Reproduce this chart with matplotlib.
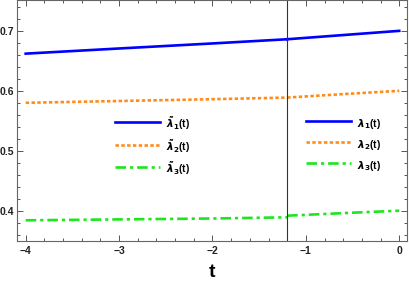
import matplotlib
matplotlib.use("Agg")
import matplotlib.pyplot as plt
from matplotlib.ticker import MultipleLocator

plt.rcParams.update({
    "font.family": ["Liberation Sans", "DejaVu Sans"],
    "mathtext.fontset": "dejavusans",
    "font.weight": "bold",
})

# switching time (vertical marker)
t_switch = -1.2

# before the switch: tilde lambdas
t_left = [-4.0, -3.0, -2.0, -1.2]
lam1_tilde = [0.662, 0.6706, 0.679, 0.686]
lam2_tilde = [0.580, 0.583, 0.586, 0.5887]
lam3_tilde = [0.384, 0.3855, 0.387, 0.389]

# after the switch: lambdas
t_right = [-1.2, -0.6, 0.0]
lam1 = [0.686, 0.693, 0.700]
lam2 = [0.5887, 0.5945, 0.600]
lam3 = [0.3917, 0.396, 0.400]

BLUE, ORANGE, GREEN = "#0000ff", "#ff8c1a", "#1ee61e"
DOT = (0, (1.3, 0.9))
DASHDOT = (0, (4, 1.5, 1.2, 1.5))

fig = plt.figure(figsize=(4.09, 2.82), dpi=100)
ax = fig.add_axes([0.0423, 0.1465, 0.9521, 0.8525])

l1t, = ax.plot(t_left, lam1_tilde, color=BLUE, lw=1.9)
l2t, = ax.plot(t_left, lam2_tilde, color=ORANGE, lw=1.9, ls=DOT)
l3t, = ax.plot(t_left, lam3_tilde, color=GREEN, lw=1.9, ls=DASHDOT)
l1, = ax.plot(t_right, lam1, color=BLUE, lw=1.9)
l2, = ax.plot(t_right, lam2, color=ORANGE, lw=1.9, ls=DOT)
l3, = ax.plot(t_right, lam3, color=GREEN, lw=1.9, ls=DASHDOT)

ax.axvline(t_switch, color="#333333", lw=0.8)

ax.set_xlim(-4.09, 0.08)
ax.set_ylim(0.35, 0.751)

ax.xaxis.set_major_locator(MultipleLocator(1))
ax.xaxis.set_minor_locator(MultipleLocator(0.2))
ax.yaxis.set_major_locator(MultipleLocator(0.1))
ax.yaxis.set_minor_locator(MultipleLocator(0.02))
ax.set_xticks([-4, -3, -2, -1, 0], ["\u22124", "\u22123", "\u22122", "\u22121", "0"])
ax.set_yticks([0.4, 0.5, 0.6, 0.7], ["0.4", "0.5", "0.6", "0.7"])
ax.tick_params(which="both", direction="in", top=True, right=True,
               colors="#555555", labelcolor="#222222", labelsize=7.5, width=0.7)
ax.tick_params(which="major", length=4)
ax.tick_params(which="minor", length=2.2)
ax.tick_params(axis="y", pad=2.5)
for s in ax.spines.values():
    s.set_color("#666666")
    s.set_linewidth(0.8)

ax.set_xlabel("t", fontsize=14, fontweight="bold", labelpad=6)

lab_kw = dict(frameon=False, fontsize=7.5, handlelength=4.3, handleheight=2.2,
              labelspacing=0.38, handletextpad=0.6, borderpad=0, loc="upper left")
leg1 = ax.legend([l1t, l2t, l3t],
                 [r"$\tilde{\lambda}_1$(t)", r"$\tilde{\lambda}_2$(t)", r"$\tilde{\lambda}_3$(t)"],
                 bbox_to_anchor=(0.238, 0.546), **lab_kw)
ax.add_artist(leg1)
ax.legend([l1, l2, l3],
          [r"$\lambda_1$(t)", r"$\lambda_2$(t)", r"$\lambda_3$(t)"],
          bbox_to_anchor=(0.728, 0.546), **lab_kw)

fig.savefig("out.png", dpi=100)
